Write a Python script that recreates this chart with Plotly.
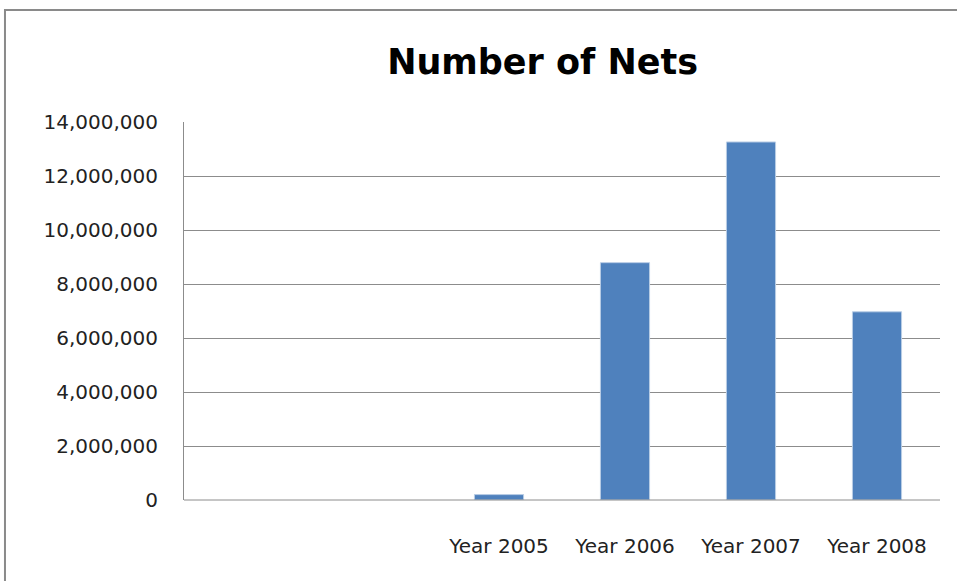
import plotly.graph_objects as go

categories = ["", "", "Year 2005", "Year 2006", "Year 2007", "Year 2008"]
nets = [None, None, 200000, 8790000, 13260000, 6970000]
y_ticks = [0, 2000000, 4000000, 6000000, 8000000, 10000000, 12000000, 14000000]
y_tick_text = ["0", "2,000,000", "4,000,000", "6,000,000", "8,000,000",
               "10,000,000", "12,000,000", "14,000,000"]

positions = list(range(len(categories)))

fig = go.Figure()
fig.add_trace(go.Bar(
    x=positions, y=nets, width=0.39,
    marker=dict(color="#4F81BD", line=dict(color="#B9CDE5", width=1)),
    showlegend=False,
))

font_family = "'DejaVu Sans', sans-serif"

fig.update_layout(
    width=957, height=581,
    margin=dict(l=184, r=17, t=122, b=81),
    paper_bgcolor="white", plot_bgcolor="white",
    title=dict(text="<b>Number of Nets</b>", x=0.567, xanchor="center",
               y=0.893, yanchor="middle", yref="container",
               font=dict(family=font_family, size=35, color="black")),
    xaxis=dict(range=[-0.5, len(categories) - 0.5], tickmode="array",
               tickvals=positions, ticktext=categories, showgrid=False,
               zeroline=False, showline=False, ticks="",
               ticklabelstandoff=32,
               tickfont=dict(family=font_family, size=20, color="#222222")),
    yaxis=dict(range=[0, 14000000], tickmode="array", tickvals=y_ticks,
               ticktext=y_tick_text, showgrid=True, gridcolor="#8C8C8C",
               gridwidth=1, zeroline=False, showline=True, linecolor="#8C8C8C",
               linewidth=1, ticks="", ticklabelstandoff=21,
               tickfont=dict(family=font_family, size=20, color="#222222")),
    shapes=[
        dict(type="line", xref="paper", yref="paper", x0=0, x1=1, y0=0, y1=0,
             line=dict(color="#8C8C8C", width=1)),
        dict(type="rect", xref="paper", yref="paper",
             x0=-0.2368, x1=1.05, y0=-0.25, y1=1.2963,
             line=dict(color="#8A8A8A", width=2), layer="above"),
    ],
)

fig.write_html("out.html")
